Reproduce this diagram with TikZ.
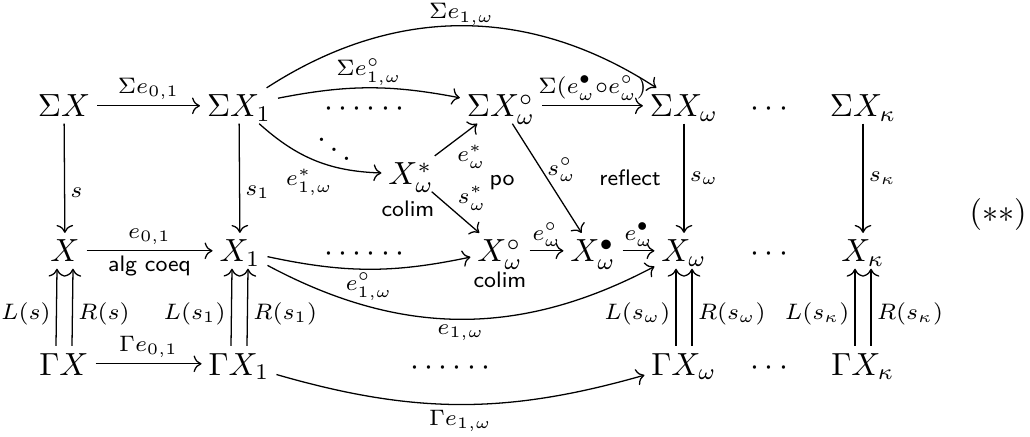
\documentclass[tikz,border=0pt]{standalone}
\usepackage{amsmath,amssymb}
\usetikzlibrary{cd}
\begin{document}
\begin{tikzpicture}[x=0.3125pt,y=-0.3125pt,
  cell/.style={anchor=base,inner xsep=2pt,inner ysep=1.9pt,text height=7pt,text depth=0pt},
  arr/.style={-{cm to}},
  lab/.style={font=\scriptsize,inner sep=1.6pt},
  txt/.style={font=\scriptsize\sffamily,inner sep=0pt}]
\useasboundingbox (0,0) rectangle (1030,437);
% row 1
\node[cell] (SX)  at (64,117)  {$\Sigma X$};
\node[cell] (SX1) at (239,117) {$\Sigma X_1$};
\node[cell] (SXo) at (501,117) {$\Sigma X^\circ_\omega$};
\node[cell] (SXw) at (684,117) {$\Sigma X_\omega$};
\node[cell] (D1)  at (772,117) {$\cdots$};
\node[cell] (SXk) at (863,117) {$\Sigma X_\kappa$};
\node[cell] (DD1) at (367,117) {$\cdots\cdots$};
\node[inner sep=0pt] (DG) at (334,140) {$\ddots$};
% row 2
\node[cell] (Xs) at (411,185) {$X^*_\omega$};
% row 3
\node[cell] (X)   at (65,262)  {$X$};
\node[cell] (X1)  at (240,262) {$X_1$};
\node[cell] (DD3) at (367,262) {$\cdots\cdots$};
\node[cell] (Xo)  at (500,262) {$X^\circ_\omega$};
\node[cell] (Xb)  at (593,262) {$X^\bullet_\omega$};
\node[cell] (Xw)  at (684,262) {$X_\omega$};
\node[cell] (D3)  at (772,262) {$\cdots$};
\node[cell] (Xk)  at (863,262) {$X_\kappa$};
% row 4
\node[cell] (GX)  at (64,375)  {$\Gamma X$};
\node[cell] (GX1) at (239,375) {$\Gamma X_1$};
\node[cell] (DD4) at (453,375) {$\cdots\cdots$};
\node[cell] (GXw) at (684,375) {$\Gamma X_\omega$};
\node[cell] (D4)  at (772,375) {$\cdots$};
\node[cell] (GXk) at (863,375) {$\Gamma X_\kappa$};
\node (tag) at (998,215) {$(**)$};
% texts
\node[txt] (po) at (502,183) {po};
\node[txt] (refl) at (630,178) {reflect};
\node[txt] (colA) at (408,209) {colim};
\node[txt] (colB) at (500,280) {colim};
% arrows row 1
\draw[arr] (SX) -- node[lab,above] (l1) {$\Sigma e_{0,1}$} (SX1);
\draw[arr] (SX1) to[bend left=33] node[lab,above,inner sep=0pt] (l2) {$\Sigma e_{1,\omega}$} (SXw);
\draw[arr] (SX1) to[bend left=11] node[lab,above,inner sep=0.6pt] (l3) {$\Sigma e^\circ_{1,\omega}$} (SXo);
\draw[arr] (SX1) to[bend right=20] node[lab,pos=.66,anchor=north east,inner sep=0.4pt] (l4) {$e^*_{1,\omega}$} (Xs);
\draw[arr] (Xs) -- node[lab,pos=.45,below right,inner sep=0.8pt] (l5) {$e^*_\omega$} (SXo);
\draw[arr] (Xs) -- node[lab,above right,inner sep=0.5pt] (l6) {$s^*_\omega$} (Xo);
\draw[arr] (SXo) -- node[lab,right,pos=.42] (l7) {$s^\circ_\omega$} (Xb);
\draw[arr] (SXo) -- node[lab,above] (l8) {$\Sigma(e^\bullet_\omega{\circ}e^\circ_\omega)$} (SXw);
% vertical
\draw[arr] (SX) -- node[lab,right,pos=.63] (l9) {$s$} (X);
\draw[arr] (SX1) -- node[lab,right,pos=.63] (l10) {$s_1$} (X1);
\draw[arr] (SXw) -- node[lab,right] (l11) {$s_\omega$} (Xw);
\draw[arr] (SXk) -- node[lab,right] (l12) {$s_\kappa$} (Xk);
% row 3
\draw[arr] (X) -- node[lab,above] (l13) {$e_{0,1}$} node[txt,below=1.4pt] (l14) {alg coeq} (X1);
\draw[arr] (X1) to[bend right=12] node[lab,below,inner sep=1pt] (l15) {$e^\circ_{1,\omega}$} (Xo);
\draw[arr] (X1) to[bend right=28] node[lab,below] (l16) {$e_{1,\omega}$} (Xw);
\draw[arr] (Xo) -- node[lab,above,inner sep=1pt] (l17) {$e^\circ_\omega$} (Xb);
\draw[arr] (Xb) -- node[lab,above,inner sep=1pt] (l18) {$e^\bullet_\omega$} (Xw);
% row 4
\draw[arr] (GX) -- node[lab,above] (l19) {$\Gamma e_{0,1}$} (GX1);
\draw[arr] (GX1) to[bend right=16] node[lab,below] (l20) {$\Gamma e_{1,\omega}$} (GXw);
% double arrows
\draw[arr] ([xshift=-2.5pt]GX.north) -- node[lab,left,pos=.42] (l21) {$L(s)$} ([xshift=-2.5pt]X.south);
\draw[arr] ([xshift=2.5pt]GX.north) -- node[lab,right,pos=.42] (l22) {$R(s)$} ([xshift=2.5pt]X.south);
\draw[arr] ([xshift=-2.5pt]GX1.north) -- node[lab,left,pos=.42] (l23) {$L(s_1)$} ([xshift=-2.5pt]X1.south);
\draw[arr] ([xshift=2.5pt]GX1.north) -- node[lab,right,pos=.42] (l24) {$R(s_1)$} ([xshift=2.5pt]X1.south);
\draw[arr] ([xshift=-2.5pt]GXw.north) -- node[lab,left,pos=.42] (l25) {$L(s_\omega)$} ([xshift=-2.5pt]Xw.south);
\draw[arr] ([xshift=2.5pt]GXw.north) -- node[lab,right,pos=.42] (l26) {$R(s_\omega)$} ([xshift=2.5pt]Xw.south);
\draw[arr] ([xshift=-2.5pt]GXk.north) -- node[lab,left,pos=.42] (l27) {$L(s_\kappa)$} ([xshift=-2.5pt]Xk.south);
\draw[arr] ([xshift=2.5pt]GXk.north) -- node[lab,right,pos=.42] (l28) {$R(s_\kappa)$} ([xshift=2.5pt]Xk.south);
\end{tikzpicture}
\end{document}
